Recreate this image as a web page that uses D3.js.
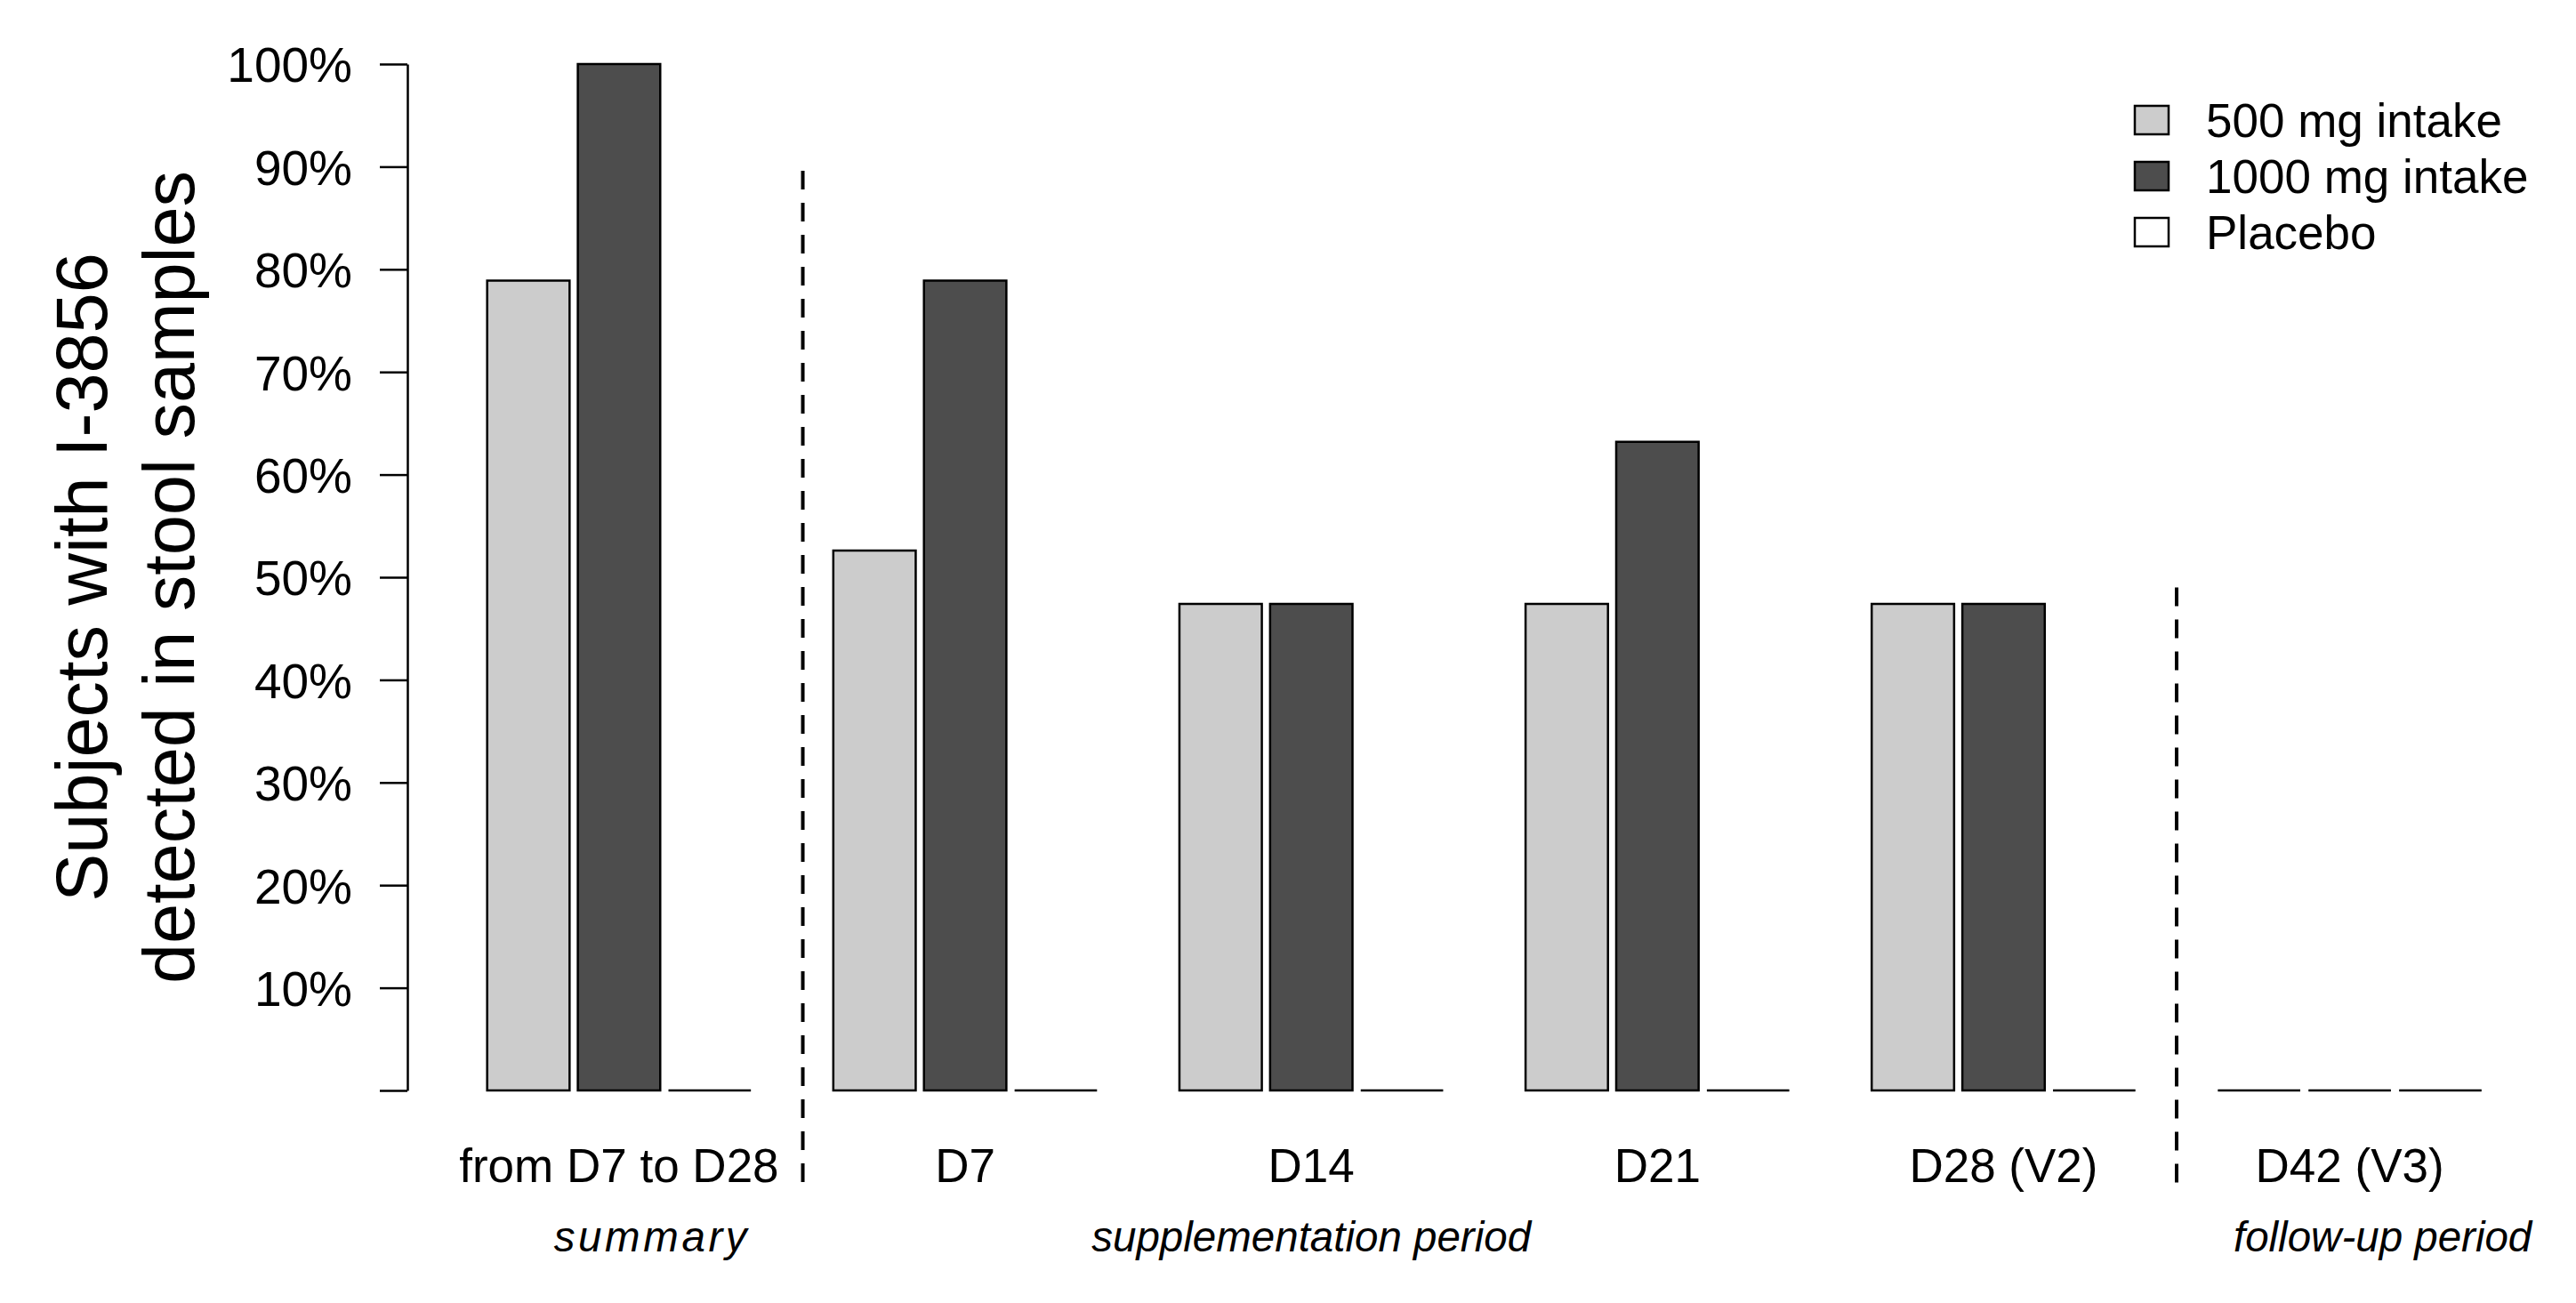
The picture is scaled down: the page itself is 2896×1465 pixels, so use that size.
<!DOCTYPE html>
<html>
<head>
<meta charset="utf-8">
<script src="https://cdn.jsdelivr.net/npm/d3@7"></script>
<style>
  html, body { margin: 0; padding: 0; background: #fff; }
  svg { display: block; }
  text { font-family: 'Liberation Sans', Arial, sans-serif; fill: #000; }
</style>
</head>
<body>
<svg id="chart"></svg>
<script>
// values (n = 19 per group)
const categories = ['from D7 to D28', 'D7', 'D14', 'D21', 'D28 (V2)', 'D42 (V3)'];
const seriesNames = ['500 mg intake', '1000 mg intake', 'Placebo'];
const seriesColors = ['#cccccc', '#4d4d4d', '#ffffff'];
const dose500 = [0.789, 0.526, 0.474, 0.474, 0.474, 0];
const dose1000 = [1.0, 0.789, 0.474, 0.632, 0.474, 0];
const placebo = [0, 0, 0, 0, 0, 0];
const yTicks = [0, 0.1, 0.2, 0.3, 0.4, 0.5, 0.6, 0.7, 0.8, 0.9, 1.0];

// period captions and separators, in bar units (R barplot coordinates)
const periodLabels = ['summary', 'supplementation period', 'follow-up period'];
const periodAt = [3, 11, 24];
const separatorAt = [4.83, 21.5];
const separatorTop = [0.896, 0.49];
const separatorBottom = -0.092;

const width = 2896;
const height = 1465;

const svg = d3.select('#chart')
  .attr('width', width)
  .attr('height', height);

// barplot layout: bar width 1, space 0.1 inside a group, 1 between groups
const groupStep = 3 * 1 + 2 * 0.1 + 1;
const groupStart = g => 1 + g * groupStep;
const unitMax = groupStart(categories.length - 1) + 3.2;
const pad = (unitMax - 1) * 0.04;

const x = d3.scaleLinear()
  .domain([1 - pad, unitMax + pad])
  .range([458, 458 + (unitMax - 1 + 2 * pad) * 92.65]);

const y = d3.scaleLinear()
  .domain([0, 1])
  .range([1226, 72]);

const bars = [];
[dose500, dose1000, placebo].forEach((vals, s) => {
  vals.forEach((v, g) => {
    const left = groupStart(g) + s * 1.1;
    bars.push({ g, s, v, left, right: left + 1 });
  });
});

// bars (paths so zero-height bars still show as a line)
svg.append('g')
  .selectAll('path')
  .data(bars)
  .enter().append('path')
  .attr('d', d => `M${x(d.left)},${y(0)}V${y(d.v)}H${x(d.right)}V${y(0)}Z`)
  .attr('fill', d => seriesColors[d.s])
  .attr('stroke', '#000')
  .attr('stroke-width', 2.5);

// y axis
const yAxis = d3.axisLeft(y)
  .tickValues(yTicks)
  .tickSize(31)
  .tickSizeOuter(0)
  .tickPadding(31)
  .tickFormat(d => (d === 0 ? '' : `${Math.round(d * 100)}%`));

const axisG = svg.append('g')
  .attr('transform', `translate(${x(1 - pad)},0)`)
  .call(yAxis);
axisG.select('.domain').attr('stroke', '#000').attr('stroke-width', 2.5);
axisG.selectAll('.tick line').attr('stroke', '#000').attr('stroke-width', 2.5);
axisG.selectAll('.tick text')
  .attr('font-family', "'Liberation Sans', Arial, sans-serif")
  .attr('font-size', 55)
  .attr('dy', '0.36em')
  .attr('fill', '#000');

// y axis title, two lines
const titleG = svg.append('g')
  .attr('transform', `translate(0,${(y(0) + y(1)) / 2}) rotate(-90)`);
['Subjects with I-3856', 'detected in stool samples'].forEach((t, i) => {
  titleG.append('text')
    .attr('x', 0)
    .attr('y', i === 0 ? 120 : 218)
    .attr('text-anchor', 'middle')
    .attr('font-size', 81)
    .text(t);
});

// category labels
svg.append('g')
  .selectAll('text')
  .data(categories)
  .enter().append('text')
  .attr('x', (d, g) => x(groupStart(g) + 1.6))
  .attr('y', 1329)
  .attr('text-anchor', 'middle')
  .attr('font-size', 53)
  .text(d => d);

// period captions
svg.append('g')
  .selectAll('text')
  .data(periodLabels)
  .enter().append('text')
  .attr('x', (d, i) => x(periodAt[i]))
  .attr('y', 1407)
  .attr('text-anchor', 'middle')
  .attr('font-size', 47.5)
  .attr('font-style', 'italic')
  .attr('letter-spacing', d => (d === 'summary' ? 3.6 : 0))
  .text(d => d);

// dashed separators
svg.append('g')
  .selectAll('line')
  .data(separatorAt)
  .enter().append('line')
  .attr('x1', d => x(d))
  .attr('x2', d => x(d))
  .attr('y1', (d, i) => y(separatorTop[i]))
  .attr('y2', y(separatorBottom))
  .attr('stroke', '#000')
  .attr('stroke-width', 4)
  .attr('stroke-dasharray', '21,15');

// legend
const legend = svg.append('g')
  .attr('transform', 'translate(2400,135)');
const item = legend.selectAll('g')
  .data(seriesNames)
  .enter().append('g')
  .attr('transform', (d, i) => `translate(0,${i * 63})`);
item.append('rect')
  .attr('x', 0)
  .attr('y', -16)
  .attr('width', 38)
  .attr('height', 32)
  .attr('fill', (d, i) => seriesColors[i])
  .attr('stroke', '#000')
  .attr('stroke-width', 2.5);
item.append('text')
  .attr('x', 80)
  .attr('y', 19)
  .attr('font-size', 53)
  .text(d => d);
</script>
</body>
</html>
